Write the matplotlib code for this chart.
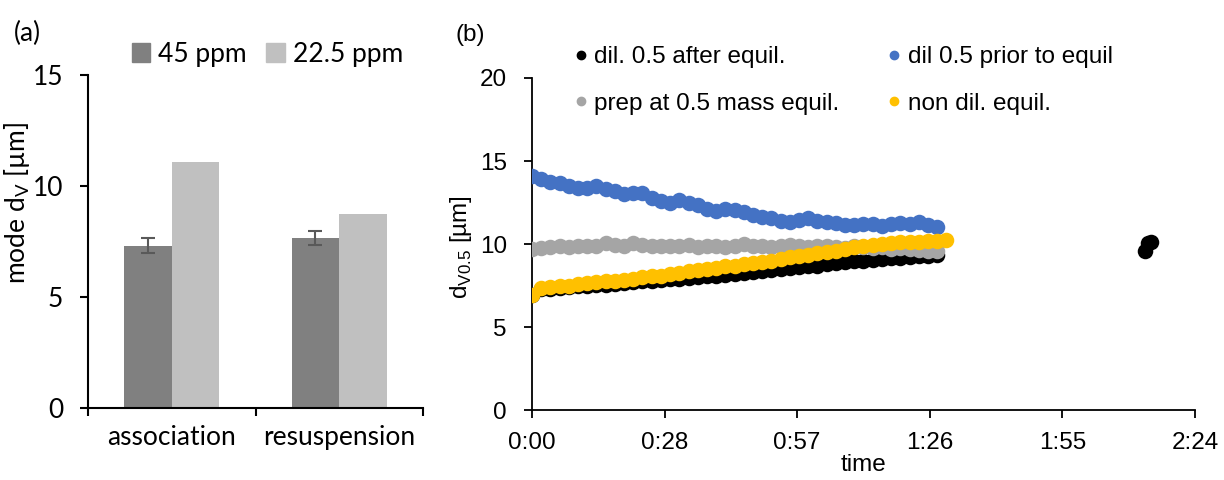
import matplotlib.pyplot as plt
from matplotlib.lines import Line2D
from matplotlib.patches import Patch
from matplotlib.ticker import FixedLocator, FuncFormatter
import numpy as np

# (a) mode size per stage
stages = ["association", "resuspension"]
mode_45 = [7.30, 7.66]
mode_45_err = [0.34, 0.30]
mode_225 = [11.08, 8.74]

# (b) d_V0.5 over time, time in minutes
t_run = [0, 2, 4, 6, 8, 10, 12, 14, 16, 18, 20, 22, 24, 26, 28, 30, 32, 34, 36, 38,
         40, 42, 44, 46, 48, 50, 52, 54, 56, 58, 60, 62, 64, 66, 68, 70, 72, 74, 76,
         78, 80, 82, 84, 86, 88]
t_late = [133.1, 133.9, 134.4]
t_non_dil = [0, 2, 4, 6, 8, 10, 12, 14, 16, 18, 20, 22, 24, 26, 28, 30, 32, 34, 36,
             38, 40, 42, 44, 46, 48, 50, 52, 54, 56, 58, 60, 62, 64, 66, 68, 70, 72,
             74, 76, 78, 80, 82, 84, 86, 88, 90]

dil_after = [6.95, 7.3, 7.3, 7.35, 7.4, 7.45, 7.5, 7.55, 7.55, 7.6, 7.65, 7.7, 7.75,
             7.8, 7.85, 7.9, 7.9, 7.95, 8.0, 8.05, 8.1, 8.15, 8.2, 8.25, 8.3, 8.35,
             8.45, 8.5, 8.55, 8.6, 8.65, 8.7, 8.8, 8.85, 8.9, 8.95, 9.0, 9.05, 9.1,
             9.15, 9.15, 9.2, 9.25, 9.3, 9.35]
dil_after_late = [9.6, 10.05, 10.15]
dil_prior = [14.1, 13.9, 13.75, 13.7, 13.5, 13.4, 13.4, 13.5, 13.3, 13.2, 13.0, 13.1,
             13.05, 12.8, 12.6, 12.5, 12.65, 12.5, 12.35, 12.1, 12.0, 12.1, 12.05,
             11.9, 11.75, 11.6, 11.55, 11.4, 11.3, 11.45, 11.55, 11.4, 11.3, 11.25,
             11.15, 11.15, 11.2, 11.2, 11.1, 11.2, 11.25, 11.2, 11.3, 11.15, 11.0]
prep_mass = [9.7, 9.75, 9.8, 9.85, 9.8, 9.9, 9.85, 9.9, 10.05, 9.95, 9.9, 10.05, 9.95,
             9.9, 9.85, 9.9, 9.85, 9.95, 9.8, 9.85, 9.9, 9.8, 9.85, 10.0, 9.9, 9.85,
             9.8, 9.9, 9.95, 9.85, 9.8, 9.85, 9.9, 9.8, 9.75, 9.85, 9.8, 9.75, 9.8,
             9.7, 9.75, 9.7, 9.65, 9.6, 9.6]
non_dil = [6.9, 7.35, 7.4, 7.45, 7.5, 7.6, 7.65, 7.7, 7.75, 7.8, 7.85, 7.9, 8.0, 8.05,
           8.1, 8.2, 8.25, 8.35, 8.45, 8.5, 8.55, 8.65, 8.7, 8.8, 8.85, 8.9, 9.0, 9.1,
           9.2, 9.25, 9.35, 9.45, 9.5, 9.6, 9.7, 9.8, 9.9, 9.95, 10.0, 10.05, 10.1,
           10.15, 10.15, 10.2, 10.2, 10.25]

BLACK = "#000000"
BLUE = "#4472C4"
GREY = "#A5A5A5"
GOLD = "#FFC000"

plt.rcParams["font.family"] = ["Liberation Sans", "DejaVu Sans"]
plt.rcParams["mathtext.fontset"] = "custom"
lato = ["Lato", "DejaVu Sans"]
FS_A = 19
FS_B = 17.5

fig = plt.figure(figsize=(12.24, 4.8), dpi=100)
ax1 = fig.add_axes([0.0719, 0.15, 0.2737, 0.694])
ax2 = fig.add_axes([0.4346, 0.1458, 0.5417, 0.6917])

# ---- (a) bars ----
pos = np.arange(len(stages))
w = 0.285
ax1.bar(pos - w / 2, mode_45, w, color="#808080", zorder=2)
ax1.errorbar(pos - w / 2, mode_45, yerr=mode_45_err, fmt="none", ecolor="#595959",
             elinewidth=1.5, capsize=5, capthick=1.5, zorder=3)
ax1.bar(pos + w / 2, mode_225, w, color="#C0C0C0", zorder=2)
ax1.set_xlim(-0.5, 1.5)
ax1.set_ylim(0, 15)
ax1.set_yticks([0, 5, 10, 15])
ax1.xaxis.set_major_locator(FixedLocator([-0.5, 0.5, 1.5]))
ax1.xaxis.set_major_formatter(FuncFormatter(lambda v, p: ""))
ax1.xaxis.set_minor_locator(FixedLocator(pos))
ax1.set_xticklabels(stages, minor=True)
ax1.tick_params(axis="x", which="minor", length=0, pad=12)
ax1.tick_params(axis="x", which="major", length=6, width=1.5, direction="out")
ax1.tick_params(axis="y", length=6, width=1.5, direction="out", pad=12)
for lab in ax1.get_xticklabels(minor=True) + ax1.get_yticklabels():
    lab.set_family(lato)
    lab.set_fontsize(FS_A)
for s in ("top", "right"):
    ax1.spines[s].set_visible(False)
for s in ("left", "bottom"):
    ax1.spines[s].set_linewidth(1.5)
ax1.set_ylabel(r"mode d$_\mathregular{V}$ [µm]", family=lato, fontsize=FS_A)
ax1.yaxis.set_label_coords(-0.168, 0.615)
ax1.legend(handles=[Patch(color="#808080", label="45 ppm"),
                    Patch(color="#C0C0C0", label="22.5 ppm")],
           ncol=2, frameon=False, loc="center", bbox_to_anchor=(0.535, 1.062),
           prop={"family": lato, "size": FS_A}, handlelength=0.7,
           handleheight=0.7, handletextpad=0.3, columnspacing=0.75,
           borderaxespad=0, borderpad=0)
fig.text(0.011, 0.915, "(a)", family=lato, fontsize=FS_A)

# ---- (b) scatter ----
ms = 125
ax2.scatter(t_run, dil_after, s=ms, color=BLACK, zorder=2, linewidths=0)
ax2.scatter(t_late, dil_after_late, s=ms, color=BLACK, zorder=2, linewidths=0)
ax2.scatter(t_run, dil_prior, s=ms, color=BLUE, zorder=3, linewidths=0)
ax2.scatter(t_run, prep_mass, s=ms, color=GREY, zorder=4, linewidths=0)
ax2.scatter(t_non_dil, non_dil, s=ms, color=GOLD, zorder=5, linewidths=0)

ax2.set_xlim(0, 144)
ax2.set_ylim(0, 20)
ax2.set_yticks([0, 5, 10, 15, 20])
ax2.set_xticks([0, 28.8, 57.6, 86.4, 115.2, 144])
ax2.xaxis.set_major_formatter(
    FuncFormatter(lambda v, p: f"{int(v // 60)}:{int(v % 60):02d}"))
ax2.tick_params(length=6, width=1.3, direction="out", labelsize=FS_B)
ax2.tick_params(axis="x", pad=10)
ax2.tick_params(axis="y", pad=12)
for s in ("top", "right"):
    ax2.spines[s].set_visible(False)
for s in ("left", "bottom"):
    ax2.spines[s].set_linewidth(1.3)
ax2.set_xlabel("time", fontsize=FS_B, labelpad=0)
ax2.set_ylabel(r"d$_\mathregular{V0.5}$ [µm]", fontsize=FS_B)
ax2.yaxis.set_label_coords(-0.088, 0.49)

handles = [Line2D([], [], marker="o", ls="", color=c, markersize=6, label=l)
           for c, l in [(BLACK, "dil. 0.5 after equil."),
                        (GREY, "prep at 0.5 mass equil."),
                        (BLUE, "dil 0.5 prior to equil"),
                        (GOLD, "non dil. equil.")]]
ax2.legend(handles=handles, ncol=2, frameon=False, loc="upper left",
           bbox_to_anchor=(0.065, 1.095), prop={"size": FS_B},
           handlelength=0.5, handletextpad=0.3, columnspacing=2.0,
           labelspacing=1.0, borderaxespad=0, borderpad=0)
fig.text(0.372, 0.915, "(b)", fontsize=FS_B)

fig.savefig("out.png", dpi=100)
